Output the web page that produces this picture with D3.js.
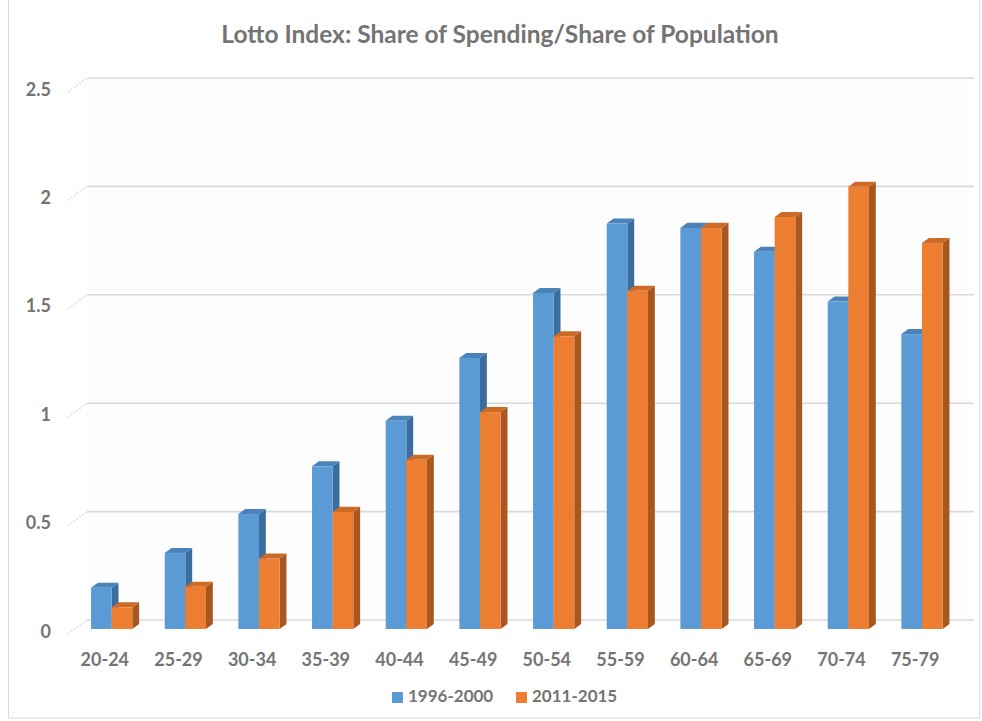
<!DOCTYPE html>
<html>
<head>
<meta charset="utf-8">
<script src="https://cdn.jsdelivr.net/npm/d3@7/dist/d3.min.js"></script>
<style>
  html, body { margin: 0; padding: 0; background: #ffffff; }
  svg { display: block; }
  text { font-family: Lato, "Open Sans", sans-serif; font-weight: 700; fill: #747474; }
</style>
</head>
<body>
<script>
// Age groups and the two survey periods
const categories = ["20-24","25-29","30-34","35-39","40-44","45-49","50-54","55-59","60-64","65-69","70-74","75-79"];
const seriesNames = ["1996-2000", "2011-2015"];
const values1996 = [0.19, 0.35, 0.53, 0.75, 0.96, 1.25, 1.55, 1.87, 1.85, 1.74, 1.51, 1.36];
const values2011 = [0.10, 0.195, 0.325, 0.54, 0.78, 1.00, 1.35, 1.56, 1.85, 1.90, 2.04, 1.78];
const yTicks = [0, 0.5, 1, 1.5, 2, 2.5];
const titleText = "Lotto Index: Share of Spending/Share of Population";

const W = 982, H = 721;
const svg = d3.select("body").append("svg").attr("width", W).attr("height", H);

// Oblique 3D projection: depth k in [0,1] shifts right and up
const DEPTH_X = 19, DEPTH_Y = 14;
const FLOOR_FRONT = 634, TOP_FRONT = 92;
const yFront = d3.scaleLinear().domain([0, 2.5]).range([FLOOR_FRONT, TOP_FRONT]);
const shiftX = k => DEPTH_X * k;
const shiftY = k => -DEPTH_Y * k;

const x = d3.scaleBand().domain(categories).range([68, 952]).paddingInner(0.44).paddingOuter(0.22);
const xs = d3.scaleBand().domain(seriesNames).range([0, x.bandwidth()]);

const palette = {
  "1996-2000": { front: "#5b9bd5", side: "#3b6e9e", top: "#4a82b9" },
  "2011-2015": { front: "#ed7d31", side: "#a9561f", top: "#cc6a27" }
};

// Outer chart border
svg.append("rect").attr("x", 8.5).attr("y", -1).attr("width", 971).attr("height", 719)
  .attr("fill", "none").attr("stroke", "#d9d9d9").attr("stroke-width", 1);

// Back wall
const wallLeft = x.range()[0] + shiftX(1), wallRight = x.range()[1] + shiftX(1);
svg.append("rect")
  .attr("x", wallLeft).attr("y", yFront(2.5) + shiftY(1))
  .attr("width", wallRight - wallLeft).attr("height", yFront(0) - yFront(2.5))
  .attr("fill", "#fdfdfd");

// Gridlines on the back wall and depth ticks on the side
const grid = svg.append("g");
yTicks.forEach(t => {
  const yb = yFront(t) + shiftY(1);
  grid.append("line")
    .attr("x1", wallLeft).attr("x2", wallRight + 3)
    .attr("y1", yb).attr("y2", yb)
    .attr("stroke", "#d9d9d9").attr("stroke-width", 1.6);
  grid.append("line")
    .attr("x1", x.range()[0]).attr("y1", yFront(t))
    .attr("x2", wallLeft).attr("y2", yb)
    .attr("stroke", "#dcdcdc").attr("stroke-width", 1.3)
    .attr("stroke-dasharray", "2,1.5");
});

// Y axis labels
svg.append("g").selectAll("text").data(yTicks).join("text")
  .attr("x", 51).attr("y", d => yFront(d) - 1)
  .attr("text-anchor", "end").attr("dominant-baseline", "middle")
  .attr("font-size", 18)
  .text(d => d);

// Bars as 3D columns placed part-way into the depth
const BAR_K0 = 0.36, BAR_K1 = 0.72;
const dxBar = shiftX(BAR_K1) - shiftX(BAR_K0), dyBar = shiftY(BAR_K1) - shiftY(BAR_K0);
const bars = svg.append("g");
const seriesData = { "1996-2000": values1996, "2011-2015": values2011 };

categories.forEach((c, i) => {
  seriesNames.forEach(s => {
    const v = seriesData[s][i];
    const col = palette[s];
    const x0 = x(c) + xs(s) + shiftX(BAR_K0);
    const w = xs.bandwidth();
    const yb = yFront(0) + shiftY(BAR_K0);
    const yt = yFront(v) + shiftY(BAR_K0);
    const g = bars.append("g");
    // side face
    g.append("path")
      .attr("d", `M${x0 + w},${yt} L${x0 + w + dxBar},${yt + dyBar} L${x0 + w + dxBar},${yb + dyBar} L${x0 + w},${yb} Z`)
      .attr("fill", col.side);
    // top face
    g.append("path")
      .attr("d", `M${x0},${yt} L${x0 + dxBar},${yt + dyBar} L${x0 + w + dxBar},${yt + dyBar} L${x0 + w},${yt} Z`)
      .attr("fill", col.top);
    // front face
    g.append("rect")
      .attr("x", x0).attr("y", yt).attr("width", w).attr("height", yb - yt)
      .attr("fill", col.front);
  });
});

// Category labels
svg.append("g").selectAll("text").data(categories).join("text")
  .attr("x", d => x(d) + x.bandwidth() / 2)
  .attr("y", 661)
  .attr("text-anchor", "middle").attr("dominant-baseline", "middle")
  .attr("font-size", 18)
  .text(d => d);

// Title
svg.append("text")
  .attr("x", 500).attr("y", 37)
  .attr("text-anchor", "middle").attr("dominant-baseline", "middle")
  .attr("font-size", 24.5)
  .text(titleText);

// Legend
const legendItems = [
  { name: seriesNames[0], x: 392 },
  { name: seriesNames[1], x: 516 }
];
const lg = svg.append("g");
legendItems.forEach(it => {
  lg.append("rect").attr("x", it.x).attr("y", 692).attr("width", 11).attr("height", 11)
    .attr("fill", palette[it.name].front);
  lg.append("text").attr("x", it.x + 16).attr("y", 698)
    .attr("dominant-baseline", "middle").attr("font-size", 17)
    .text(it.name);
});
</script>
</body>
</html>
